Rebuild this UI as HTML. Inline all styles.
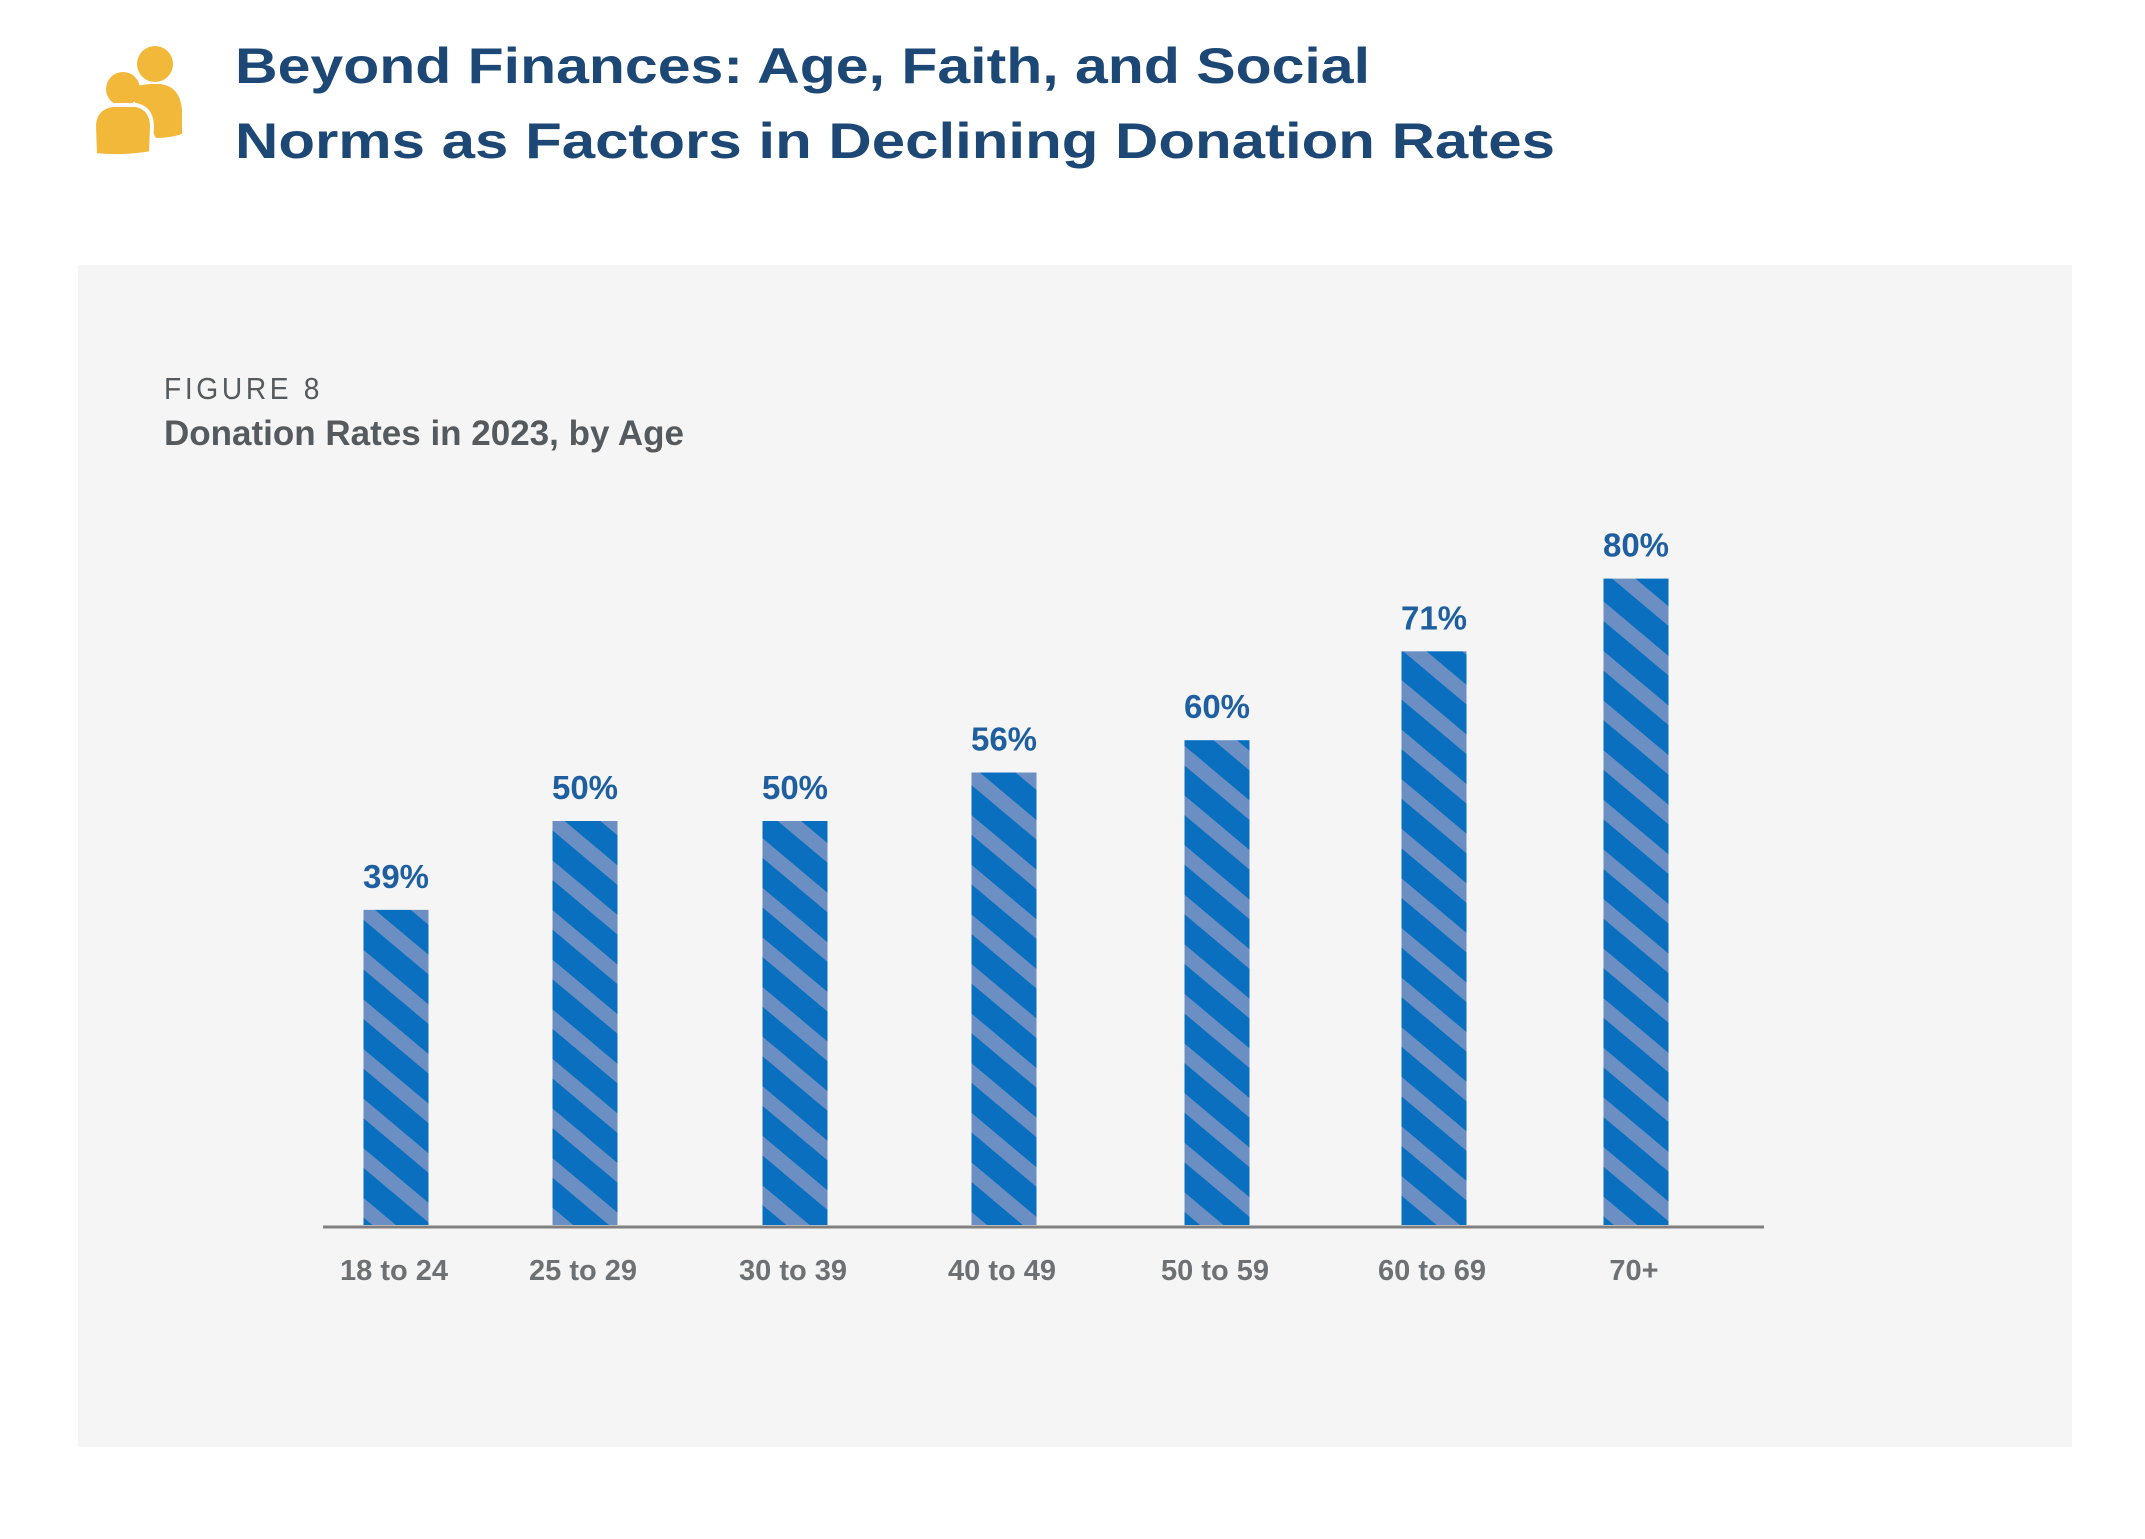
<!DOCTYPE html>
<html><head><meta charset="utf-8">
<style>
html,body{margin:0;padding:0;background:#fff;}
svg{display:block;}
text{font-family:"Liberation Sans",sans-serif;}
</style></head>
<body>
<svg width="2145" height="1539" viewBox="0 0 2145 1539" xmlns="http://www.w3.org/2000/svg">
<defs>
<pattern id="stripes" patternUnits="userSpaceOnUse" width="38" height="38" patternTransform="rotate(40)">
<rect width="38" height="38" fill="#0a6fbf"/>
<rect x="0" y="0" width="38" height="15" fill="#6b8fc3"/>
</pattern>
</defs>
<g fill="#f2b83a">
<circle cx="155" cy="64" r="18"/>
<path d="M128 90 Q140 83 160 84 Q180 86 182 110 L182 134 Q170 138 156 138 Z"/>
<circle cx="123" cy="89" r="17"/>
<path d="M95 155 L94 125 Q95 108 112 105 L136 105 Q151 108 152 125 L151 153 Q125 158 95 155 Z" stroke="#fff" stroke-width="4"/>
</g>
<text x="235" y="83" font-size="50" font-weight="bold" fill="#1d4876" textLength="1135" lengthAdjust="spacingAndGlyphs">Beyond Finances: Age, Faith, and Social</text>
<text x="235" y="158" font-size="50" font-weight="bold" fill="#1d4876" textLength="1320" lengthAdjust="spacingAndGlyphs">Norms as Factors in Declining Donation Rates</text>
<rect x="78" y="265" width="1994" height="1182" fill="#f4f5f4"/>
<text x="164" y="399" font-size="31" fill="#555a5e" letter-spacing="4" textLength="159" lengthAdjust="spacingAndGlyphs">FIGURE 8</text>
<text x="164" y="445" font-size="35" font-weight="bold" fill="#555a5e" textLength="520" lengthAdjust="spacingAndGlyphs">Donation Rates in 2023, by Age</text>
<g id="bars"></g>
<line x1="323" y1="1227" x2="1764" y2="1227" stroke="#808080" stroke-width="3"/>
</svg>
<script>
const categories = ["18 to 24","25 to 29","30 to 39","40 to 49","50 to 59","60 to 69","70+"];
const values = [39,50,50,56,60,71,80];
const valueLabels = ["39%","50%","50%","56%","60%","71%","80%"];

const centers = [396,585,795,1004,1217,1434,1636];
const baseY = 1225, pxPer = 8.08, barW = 65;
function yScale(v){ return baseY - v*pxPer; }
function xScale(i){ return centers[i]; }
const g = document.getElementById('bars');
const NS = "http://www.w3.org/2000/svg";
categories.forEach((c,i)=>{
  const cx = xScale(i), top = yScale(values[i]);
  const r = document.createElementNS(NS,'rect');
  r.setAttribute('x', cx - barW/2);
  r.setAttribute('y', top);
  r.setAttribute('width', barW);
  r.setAttribute('height', baseY - top);
  r.setAttribute('fill','url(#stripes)');
  
  
  g.appendChild(r);
  const t = document.createElementNS(NS,'text');
  t.setAttribute('x', cx);
  t.setAttribute('y', top - 22);
  t.setAttribute('text-anchor','middle');
  t.setAttribute('font-size','33');
  t.setAttribute('font-weight','bold');
  t.setAttribute('fill','#1f5f9f');
  t.textContent = valueLabels[i];
  
  
  g.appendChild(t);
  const l = document.createElementNS(NS,'text');
  l.setAttribute('x', cx - 2);
  l.setAttribute('y', 1280);
  l.setAttribute('text-anchor','middle');
  l.setAttribute('font-size','29');
  l.setAttribute('font-weight','bold');
  l.setAttribute('fill','#6e7173');
  l.textContent = c;
  
  
  g.appendChild(l);
});
</script>
</body></html>
